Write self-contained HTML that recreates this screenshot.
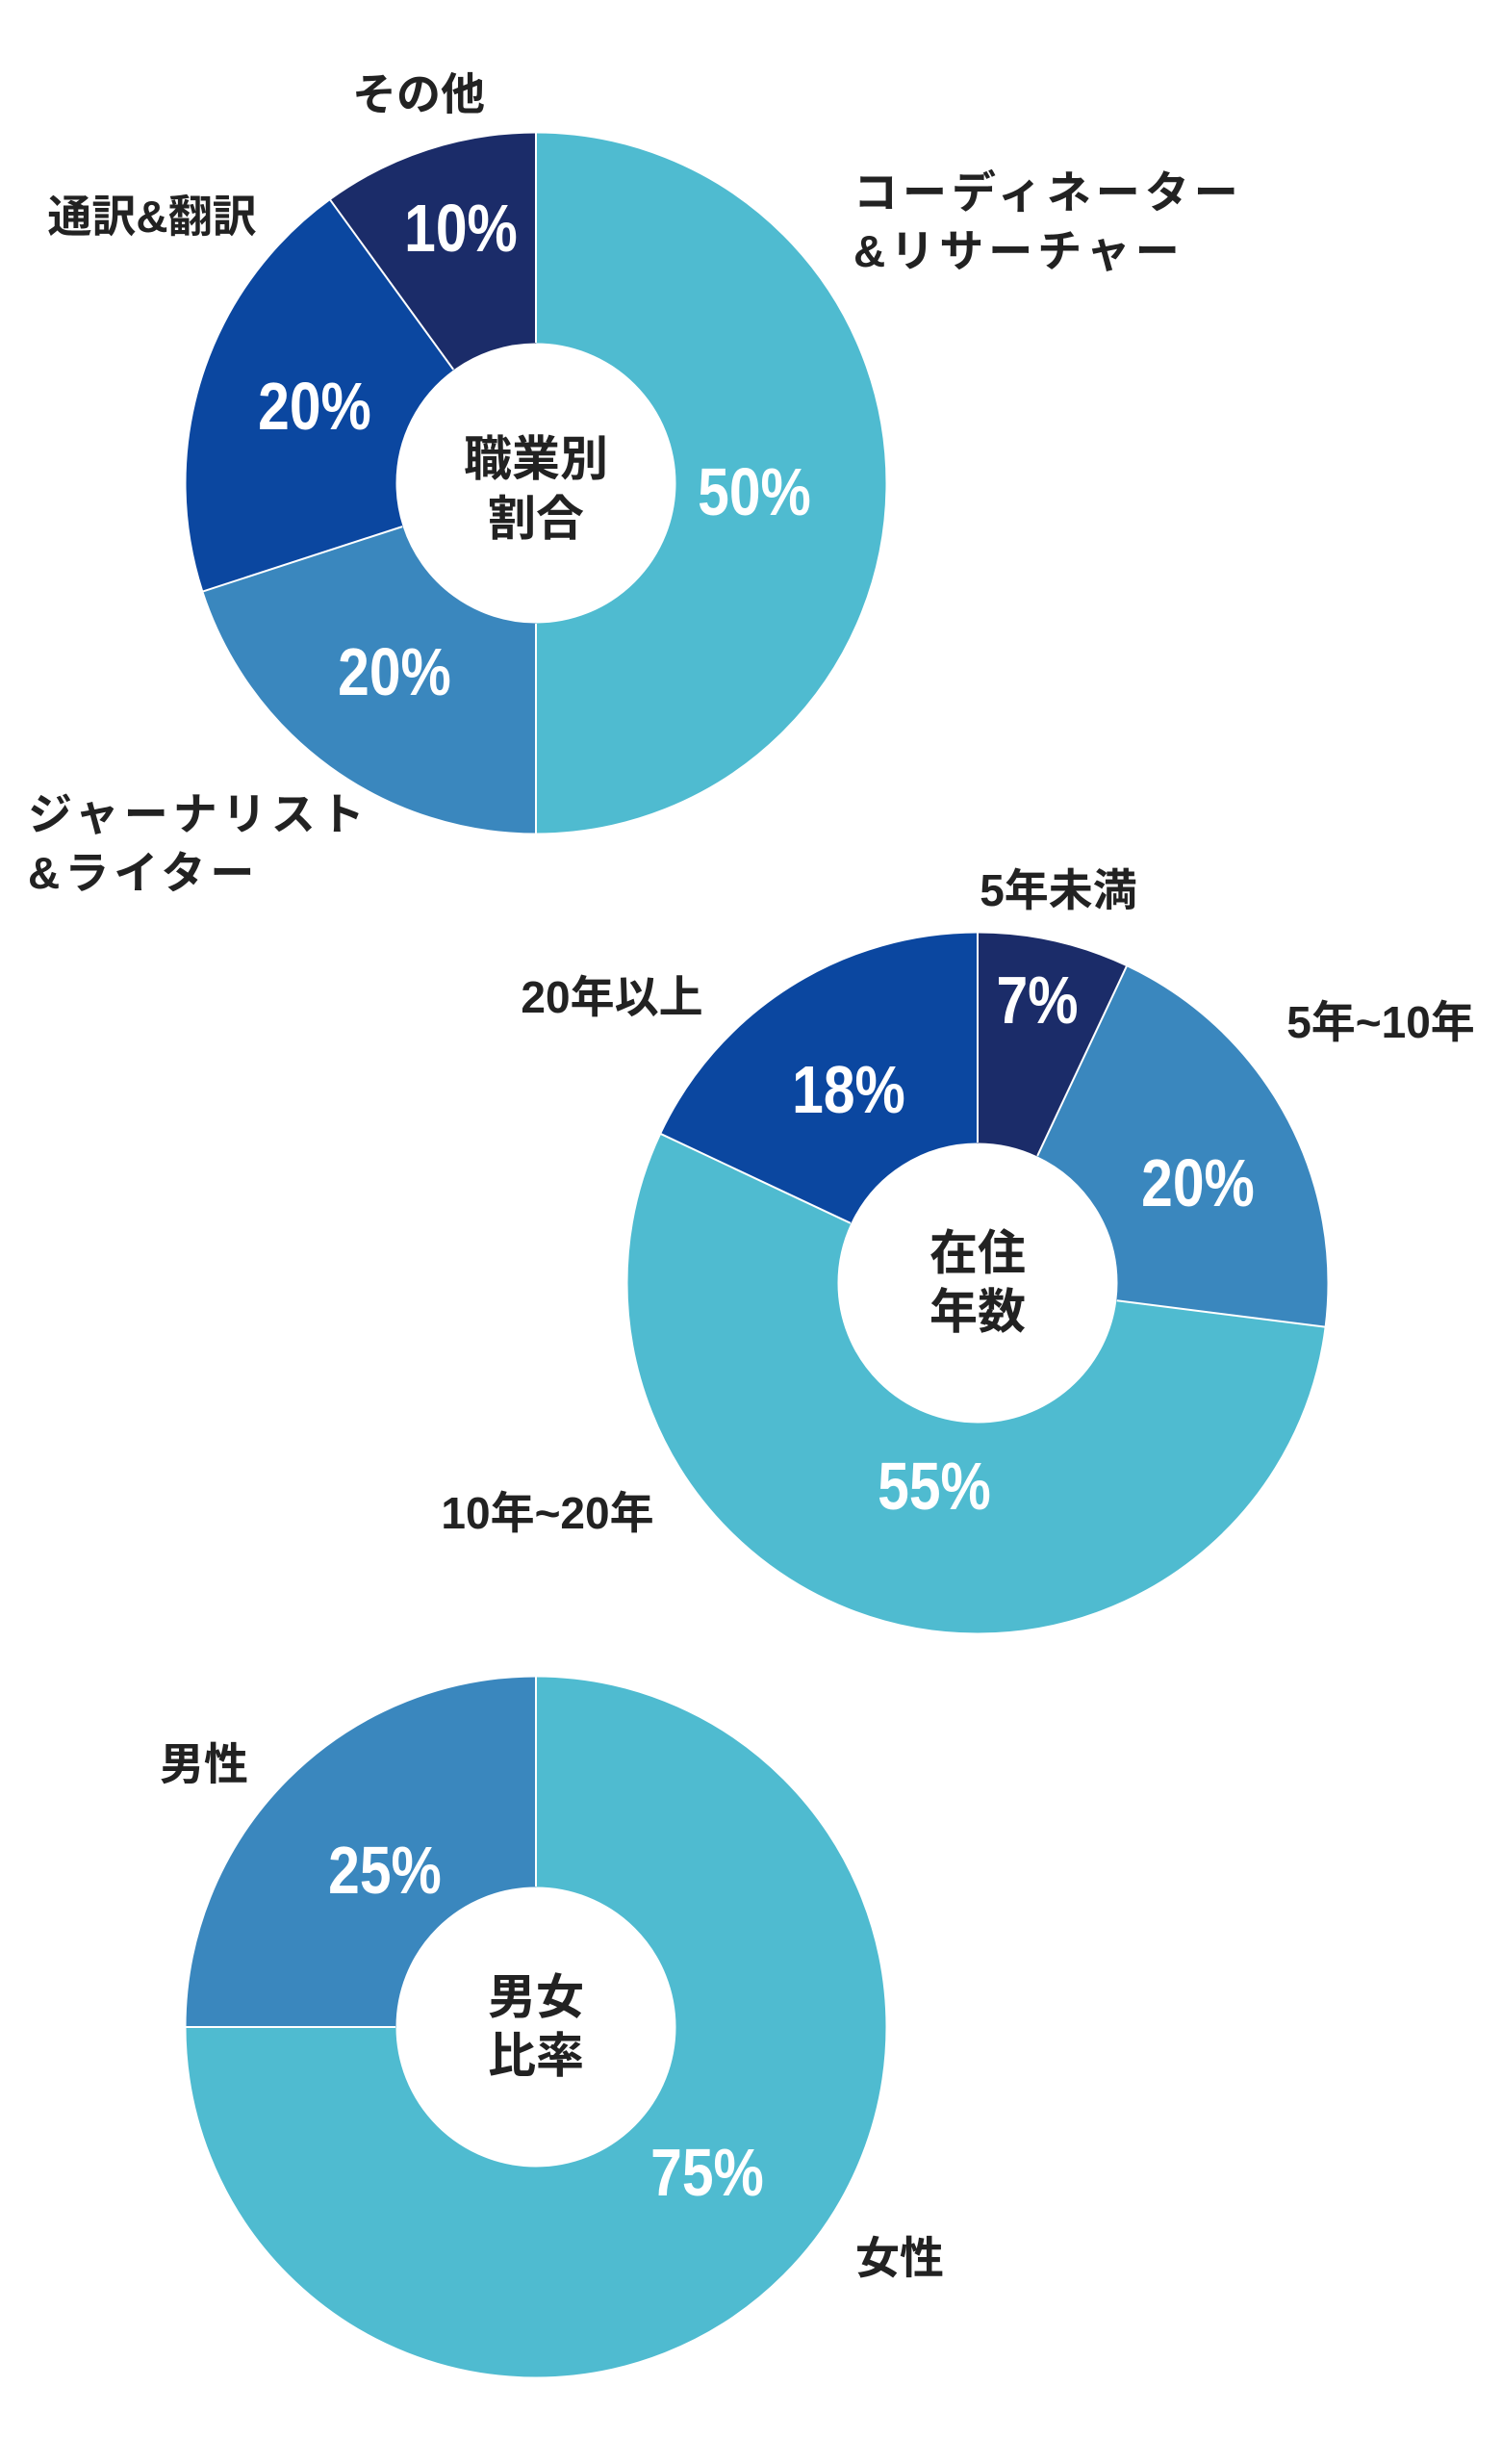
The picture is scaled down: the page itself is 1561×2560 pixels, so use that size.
<!DOCTYPE html>
<html><head><meta charset="utf-8"><style>
html,body{margin:0;padding:0;background:#fff;}
body{width:1561px;height:2560px;position:relative;overflow:hidden;font-family:"Liberation Sans","Noto Sans CJK JP",sans-serif;}
.l{position:absolute;font-weight:700;color:#222;font-size:46px;line-height:1;white-space:nowrap;transform:translate(-50%,-50%);}
.ll{position:absolute;font-weight:700;color:#222;font-size:46px;line-height:1.32;white-space:nowrap;letter-spacing:5px;}
.p{position:absolute;font-weight:700;color:#fff;font-size:70px;line-height:1;white-space:nowrap;transform:translate(-50%,-50%) scaleX(.84);}
.c{position:absolute;font-weight:700;color:#222;font-size:50px;line-height:1;white-space:nowrap;transform:translate(-50%,-50%);}
svg{position:absolute;left:0;top:0;}
</style></head><body>
<svg width="1561" height="2560" viewBox="0 0 1561 2560">
<g fill="none" stroke-width="218">
<g transform="rotate(-90 557 502)">
<circle cx="557" cy="502" r="254.5" stroke="#4FBBD0" stroke-dasharray="799.6 1599.1" stroke-dashoffset="0"/>
<circle cx="557" cy="502" r="254.5" stroke="#3A87BE" stroke-dasharray="319.8 1599.1" stroke-dashoffset="-799.6"/>
<circle cx="557" cy="502" r="254.5" stroke="#0B47A0" stroke-dasharray="319.8 1599.1" stroke-dashoffset="-1119.4"/>
<circle cx="557" cy="502" r="254.5" stroke="#1B2C69" stroke-dasharray="159.9 1599.1" stroke-dashoffset="-1439.2"/>
</g>
<g transform="rotate(-90 1016 1333)">
<circle cx="1016" cy="1333" r="254.5" stroke="#1B2C69" stroke-dasharray="112 1599.1" stroke-dashoffset="0"/>
<circle cx="1016" cy="1333" r="254.5" stroke="#3A87BE" stroke-dasharray="319.8 1599.1" stroke-dashoffset="-112"/>
<circle cx="1016" cy="1333" r="254.5" stroke="#4FBBD0" stroke-dasharray="879.5 1599.1" stroke-dashoffset="-431.8"/>
<circle cx="1016" cy="1333" r="254.5" stroke="#0B47A0" stroke-dasharray="287.8 1599.1" stroke-dashoffset="-1311.3"/>
</g>
<g transform="rotate(-90 557 2106)">
<circle cx="557" cy="2106" r="254.5" stroke="#4FBBD0" stroke-dasharray="1199.3 1599.1" stroke-dashoffset="0"/>
<circle cx="557" cy="2106" r="254.5" stroke="#3A87BE" stroke-dasharray="399.8 1599.1" stroke-dashoffset="-1199.3"/>
</g>
</g>
<g stroke="#fff" stroke-width="2">
<line x1="557" y1="356" x2="557" y2="137"/>
<line x1="557" y1="356" x2="557" y2="137" transform="rotate(180 557 502)"/>
<line x1="557" y1="356" x2="557" y2="137" transform="rotate(252 557 502)"/>
<line x1="557" y1="356" x2="557" y2="137" transform="rotate(324 557 502)"/>
<line x1="1016" y1="1187" x2="1016" y2="968"/>
<line x1="1016" y1="1187" x2="1016" y2="968" transform="rotate(25.2 1016 1333)"/>
<line x1="1016" y1="1187" x2="1016" y2="968" transform="rotate(97.2 1016 1333)"/>
<line x1="1016" y1="1187" x2="1016" y2="968" transform="rotate(295.2 1016 1333)"/>
<line x1="557" y1="1960" x2="557" y2="1741"/>
<line x1="557" y1="1960" x2="557" y2="1741" transform="rotate(270 557 2106)"/>
</g>
</svg>

<div class="l" style="left:435px;top:98px">その他</div>
<div class="p" style="left:479px;top:237px">10%</div>
<div class="l" style="left:158px;top:225px">通訳&amp;翻訳</div>
<div class="p" style="left:327px;top:422px">20%</div>
<div class="c" style="left:557px;top:477px">職業別</div>
<div class="c" style="left:557px;top:539px">割合</div>
<div class="p" style="left:784px;top:511px">50%</div>
<div class="ll" style="left:887px;top:170px">コーディネーター<br>&amp;リサーチャー</div>
<div class="p" style="left:410px;top:698px">20%</div>
<div class="ll" style="left:29px;top:816px">ジャーナリスト<br>&amp;ライター</div>

<div class="l" style="left:1100px;top:925px">5年未満</div>
<div class="p" style="left:1078px;top:1039px">7%</div>
<div class="l" style="left:1435px;top:1062px">5年~10年</div>
<div class="p" style="left:1245px;top:1229px">20%</div>
<div class="l" style="left:636px;top:1036px">20年以上</div>
<div class="p" style="left:882px;top:1132px">18%</div>
<div class="c" style="left:1016px;top:1302px">在住</div>
<div class="c" style="left:1016px;top:1363px">年数</div>
<div class="p" style="left:971px;top:1544px">55%</div>
<div class="l" style="left:569px;top:1572px">10年~20年</div>

<div class="l" style="left:212px;top:1833px">男性</div>
<div class="p" style="left:400px;top:1943px">25%</div>
<div class="c" style="left:557px;top:2075px">男女</div>
<div class="c" style="left:557px;top:2136px">比率</div>
<div class="p" style="left:735px;top:2257px">75%</div>
<div class="l" style="left:935px;top:2346px">女性</div>
</body></html>
